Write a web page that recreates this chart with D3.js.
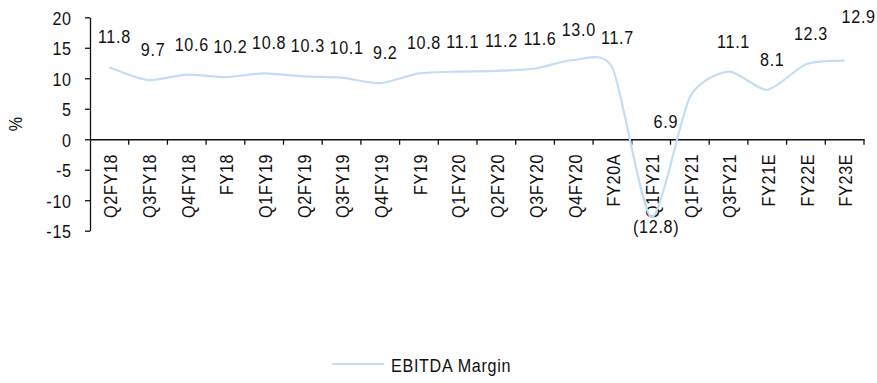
<!DOCTYPE html>
<html>
<head>
<meta charset="utf-8">
<script src="https://cdn.jsdelivr.net/npm/d3@7"></script>
<style>
  html, body { margin: 0; padding: 0; background: #ffffff; }
  svg { display: block; }
  text { font-family: "Liberation Sans", Arial, sans-serif; fill: #111111; }
</style>
</head>
<body>
<svg id="chart" width="877" height="383"></svg>
<script>
// Periods on the category axis
const periods = ["Q2FY18", "Q3FY18", "Q4FY18", "FY18", "Q1FY19", "Q2FY19", "Q3FY19", "Q4FY19",
  "FY19", "Q1FY20", "Q2FY20", "Q3FY20", "Q4FY20", "FY20A", "Q1FY21", "Q1FY21",
  "Q3FY21", "FY21E", "FY22E", "FY23E"];

// EBITDA margin, %
const ebitdaMargin = [11.8, 9.7, 10.6, 10.2, 10.8, 10.3, 10.1, 9.2, 10.8, 11.1,
  11.2, 11.6, 13.0, 11.7, -12.8, 6.9, 11.1, 8.1, 12.3, 12.9];

// Value axis ticks
const yTicks = [-15, -10, -5, 0, 5, 10, 15, 20];

const seriesName = "EBITDA Margin";
const lineColor = "#c4ddf7";

const svg = d3.select("#chart");
const fontSize = 19;
const narrow = 0.85;          // horizontal squeeze for a narrow face
const spacing = "0.8px";
const sq = `scale(${narrow},1)`;

const plot = { left: 90, right: 864, top: 17.3, bottom: 230.7 };

// one band per period, so ticks can sit on band boundaries
const x = d3.scaleBand()
  .domain(d3.range(periods.length))
  .range([plot.left, plot.right])
  .padding(0);
const xc = i => x(i) + x.bandwidth() / 2;

const y = d3.scaleLinear()
  .domain([d3.min(yTicks), d3.max(yTicks)])
  .range([plot.bottom, plot.top]);

// narrow text placed at (px, py)
function narrowText(sel, px, py) {
  return sel.attr("x", 0).attr("y", 0)
    .attr("transform", (d, i) => `translate(${px(d, i)},${py(d, i)}) ${sq}`)
    .attr("font-size", fontSize)
    .style("letter-spacing", spacing);
}

// y axis
const yAxis = svg.append("g")
  .attr("transform", `translate(${plot.left},0)`)
  .call(d3.axisLeft(y).tickValues(yTicks).tickSize(5).tickSizeOuter(0)
    .tickFormat(d => String(d)));
yAxis.select(".domain").attr("stroke", "#111").attr("stroke-width", 1.3);
yAxis.selectAll(".tick line").attr("stroke", "#111").attr("stroke-width", 1.3);
yAxis.selectAll(".tick text")
  .attr("x", -18.3 / narrow)
  .attr("dy", "0.36em")
  .attr("transform", sq)
  .attr("font-size", fontSize)
  .style("letter-spacing", spacing)
  .attr("fill", "#111");

// axis title
svg.append("text")
  .attr("transform", `translate(${22},${124}) rotate(-90) ${sq}`)
  .attr("text-anchor", "middle")
  .attr("font-size", fontSize)
  .text("%");

// category axis on the zero line
const y0 = y(0);
const xAxis = svg.append("g")
  .attr("transform", `translate(0,${y0})`)
  .call(d3.axisBottom(x).tickSize(0).tickSizeOuter(0).tickFormat(i => periods[i]));
xAxis.select(".domain").attr("stroke", "#111").attr("stroke-width", 1.3);
xAxis.selectAll(".tick text")
  .attr("font-size", fontSize)
  .style("letter-spacing", spacing)
  .attr("text-anchor", "end")
  .attr("transform", `rotate(-90) ${sq}`)
  .attr("x", -14.5 / narrow)
  .attr("y", 1)
  .attr("dy", "0.36em");

// tick marks on band boundaries
const boundaries = d3.range(1, periods.length + 1).map(i => plot.left + i * x.bandwidth());
xAxis.selectAll(".bound")
  .data(boundaries)
  .join("line")
  .attr("class", "bound")
  .attr("x1", d => d).attr("x2", d => d)
  .attr("y1", 0).attr("y2", 5.5)
  .attr("stroke", "#111").attr("stroke-width", 1.3);

// smoothed margin line
const line = d3.line()
  .x((d, i) => xc(i))
  .y(d => y(d))
  .curve(d3.curveCardinal.tension(0.3));

svg.append("path")
  .datum(ebitdaMargin)
  .attr("d", line)
  .attr("fill", "none")
  .attr("stroke", lineColor)
  .attr("stroke-width", 2.2);

// data labels; a few are nudged clear of the line
const labelNudge = { 15: [-29, 55], 19: [9, -14] };
const fmt = v => v < 0 ? `(${Math.abs(v).toFixed(1)})` : v.toFixed(1);
svg.append("g")
  .selectAll("text")
  .data(ebitdaMargin)
  .join("text")
  .attr("text-anchor", "middle")
  .call(narrowText,
    (d, i) => xc(i) + 5 + (labelNudge[i] ? labelNudge[i][0] : 0),
    (d, i) => y(d) + (d < 0 ? 16 : -24) + (labelNudge[i] ? labelNudge[i][1] : 0))
  .text(fmt);

// legend
const legend = svg.append("g");
legend.append("line")
  .attr("x1", 332).attr("x2", 384)
  .attr("y1", 364).attr("y2", 364)
  .attr("stroke", lineColor).attr("stroke-width", 2.2);
legend.append("text")
  .datum(seriesName)
  .call(narrowText, () => 391, () => 371.5)
  .text(d => d);
</script>
</body>
</html>
